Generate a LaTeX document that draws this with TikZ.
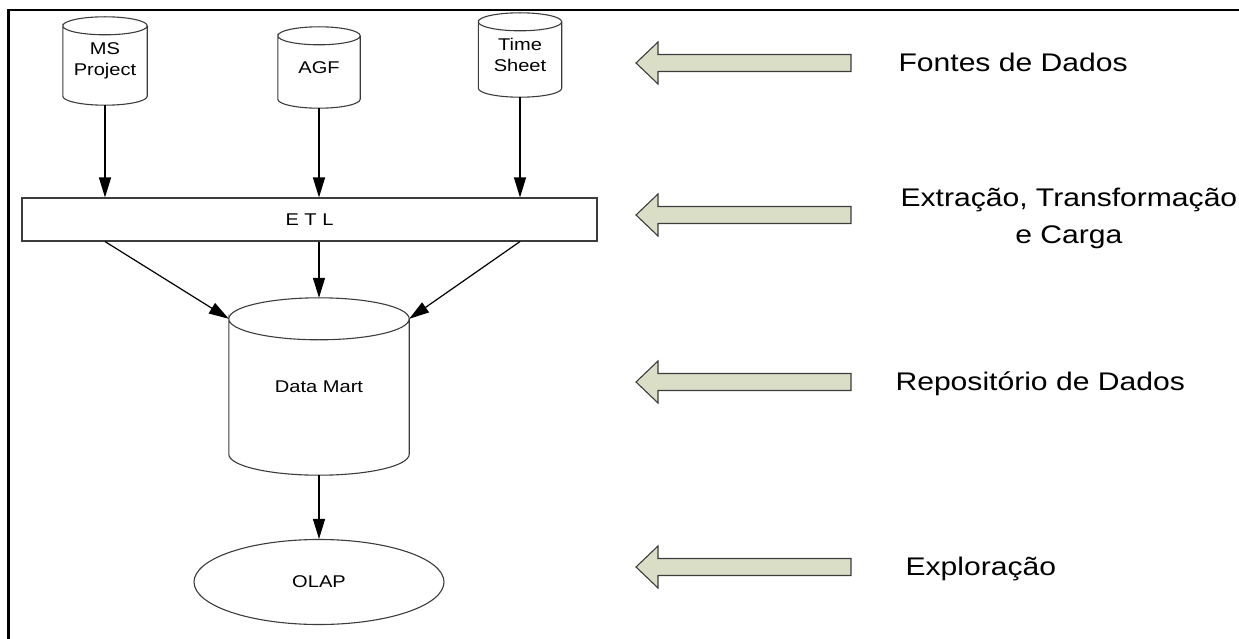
\documentclass[tikz,border=0pt]{standalone}
\usepackage{graphicx}
\usepackage{fontspec}
\setmainfont{Liberation Sans}
\usetikzlibrary{shapes.geometric,arrows.meta,calc}

\definecolor{edgegray}{RGB}{60,60,60}
\definecolor{arrowfill}{RGB}{218,222,198}
\newcommand{\hs}[1]{\scalebox{1.18}[1]{#1}}
% outline of a data store round node #1, cap radius #2
\newcommand{\dbcyl}[2]{%
  \draw[dbline] let \p1=(#1.north west), \p2=(#1.south east), \n1={0.5*(\x2-\x1)} in
    (\x1,\y1-#2) arc[start angle=180, end angle=-180, x radius=\n1, y radius=#2]
    -- (\x1,\y2+#2) arc[start angle=180, end angle=360, x radius=\n1, y radius=#2]
    -- (\x2,\y1-#2);}

\tikzset{
  dbline/.style={draw=edgegray, line width=1.1pt},
  db/.style={rectangle, inner sep=0pt, align=center, font=\fontsize{17}{21}\selectfont},
  flow/.style={-{Triangle[length=20pt,width=12pt]}, line width=1.2pt},
  layer/.style={font=\fontsize{25.5}{36}\selectfont, anchor=base west, align=center},
  bigarrow/.style={draw=edgegray, fill=arrowfill, line width=1.1pt}
}

\begin{document}
\begin{tikzpicture}[x=1pt,y=-1pt]
\useasboundingbox (0,0) rectangle (1239,639);
% frame
\draw[line width=2.5pt] (8.3,639) -- (8.3,10) -- (1239,10);

% sources
\node[db, minimum width=84pt, minimum height=88pt] (ms) at (105,61) {\hs{MS}\\\hs{Project}};
\node[db, minimum width=82pt, minimum height=81pt] (agf) at (319,67.5) {\hs{AGF}};
\node[db, minimum width=83pt, minimum height=84pt] (ts) at (520,55) {\hs{Time}\\\hs{Sheet}};
\dbcyl{ms}{9pt}
\dbcyl{agf}{9pt}
\dbcyl{ts}{9pt}

% etl, repository, olap
\node[draw=edgegray, line width=1.1pt, minimum width=575pt, minimum height=43pt, inner sep=0pt,
  font=\fontsize{17}{21}\selectfont] (etl) at (309.5,219.5) {\hs{E T L}};
\node[db, minimum width=180pt, minimum height=177pt] (dm) at (319,386.5) {\hs{Data Mart}};
\dbcyl{dm}{21pt}
\node[ellipse, draw=edgegray, line width=1.1pt, minimum width=250pt, minimum height=85pt, inner sep=0pt,
  font=\fontsize{17}{21}\selectfont] (olap) at (319,582) {\hs{OLAP}};

% connectors
\foreach \src in {ms,agf,ts}
  \draw[flow] (\src.south) -- (\src.south |- etl.north);
\draw[flow] (etl.south -| ms.south) -- ($(dm.north west)+(0,21)$);
\draw[flow] (etl.south -| dm.north) -- (dm.north);
\draw[flow] (etl.south -| ts.south) -- ($(dm.north east)+(0,21)$);
\draw[flow] (dm.south) -- (olap.north);

% layer arrows
\foreach \y in {63,215,382,567}
  \draw[bigarrow] (636,\y) -- (658,\y-21) -- (658,\y-8.5) -- (851,\y-8.5) -- (851,\y+8.5)
    -- (658,\y+8.5) -- (658,\y+21) -- cycle;

% layer names
\node[layer] (fontes) at (895,72) {\hs{Fontes de Dados}};
\node[layer] (carga) at (897,243) {\hs{Extração, Transformação}\\\hs{e Carga}};
\node[layer] (repo) at (892,390) {\hs{Repositório de Dados}};
\node[layer] (explo) at (902,575) {\hs{Exploração}};
\end{tikzpicture}
\end{document}
